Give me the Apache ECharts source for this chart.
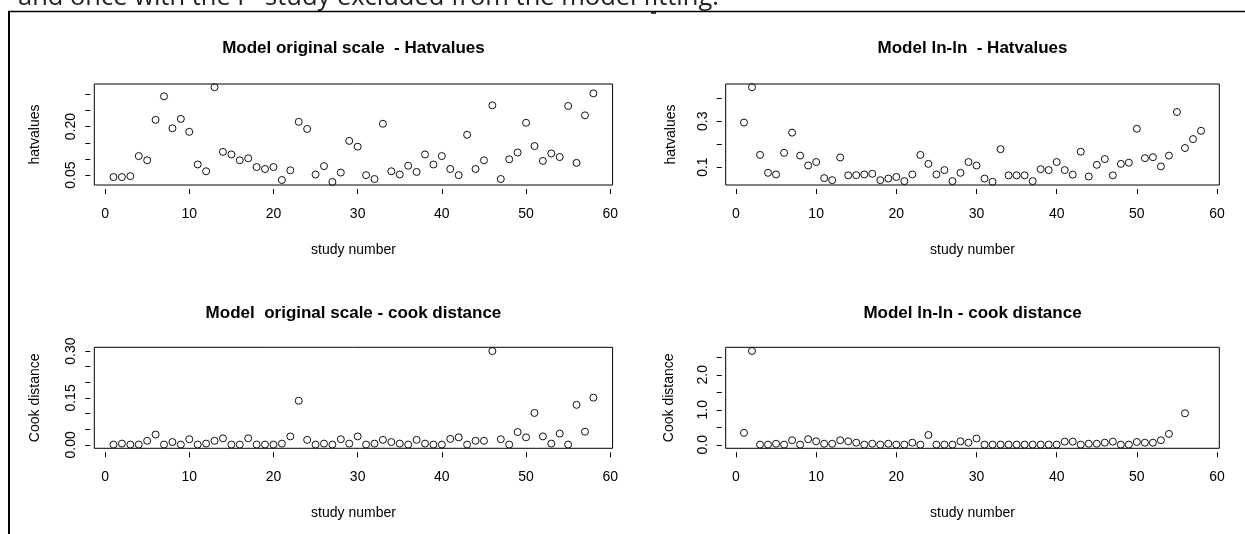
<!DOCTYPE html>
<html>
<head>
<meta charset="utf-8">
<title>Hatvalues and Cook distance</title>
<script src="https://cdn.jsdelivr.net/npm/echarts@6/dist/echarts.min.js"></script>
<style>
  html, body { margin: 0; padding: 0; background: #fff; }
  #chart { width: 1245px; height: 534px; }
</style>
</head>
<body>
<div id="chart"></div>
<script>
// Study index 1..58
const studies = Array.from({ length: 58 }, (_, k) => k + 1);

// Leverage (hat values), model on original scale
const hatOriginal = [
  0.044, 0.044, 0.047, 0.109, 0.096, 0.221, 0.294, 0.195, 0.224, 0.184,
  0.083, 0.062, 0.322, 0.122, 0.114, 0.096, 0.102, 0.075, 0.069, 0.075,
  0.035, 0.065, 0.215, 0.193, 0.052, 0.078, 0.029, 0.058, 0.156, 0.138,
  0.050, 0.038, 0.209, 0.062, 0.052, 0.079, 0.060, 0.114, 0.083, 0.109,
  0.069, 0.050, 0.175, 0.069, 0.096, 0.266, 0.038, 0.099, 0.120, 0.212,
  0.140, 0.094, 0.117, 0.106, 0.264, 0.088, 0.235, 0.303
];

// Leverage (hat values), ln-ln model
const hatLnLn = [
  0.294, 0.448, 0.153, 0.075, 0.068, 0.162, 0.250, 0.150, 0.107, 0.122,
  0.052, 0.043, 0.142, 0.064, 0.065, 0.068, 0.071, 0.043, 0.050, 0.057,
  0.039, 0.068, 0.153, 0.114, 0.068, 0.087, 0.039, 0.075, 0.122, 0.107,
  0.050, 0.036, 0.178, 0.064, 0.064, 0.064, 0.039, 0.091, 0.087, 0.122,
  0.087, 0.067, 0.167, 0.059, 0.110, 0.135, 0.064, 0.114, 0.119, 0.267,
  0.139, 0.143, 0.103, 0.150, 0.340, 0.183, 0.222, 0.258
];

// Cook distance, model on original scale
const cookOriginal = [
  0.001, 0.004, 0.001, 0.001, 0.013, 0.033, 0.001, 0.009, 0.001, 0.018,
  0.001, 0.004, 0.013, 0.021, 0.001, 0.001, 0.021, 0.001, 0.001, 0.001,
  0.004, 0.027, 0.141, 0.016, 0.001, 0.004, 0.001, 0.018, 0.004, 0.027,
  0.001, 0.004, 0.016, 0.009, 0.004, 0.001, 0.016, 0.004, 0.001, 0.001,
  0.019, 0.024, 0.001, 0.013, 0.013, 0.300, 0.018, 0.001, 0.041, 0.024,
  0.102, 0.027, 0.004, 0.036, 0.001, 0.128, 0.042, 0.151
];

// Cook distance, ln-ln model (not available for studies 55, 57, 58)
const cookLnLn = [
  0.34, 2.68, 0.005, 0.005, 0.03, 0.005, 0.13, 0.005, 0.16, 0.10,
  0.03, 0.03, 0.13, 0.10, 0.06, 0.005, 0.03, 0.005, 0.03, 0.005,
  0.005, 0.06, 0.005, 0.28, 0.005, 0.005, 0.005, 0.10, 0.06, 0.18,
  0.005, 0.005, 0.005, 0.005, 0.005, 0.005, 0.005, 0.005, 0.005, 0.005,
  0.09, 0.09, 0.005, 0.03, 0.03, 0.06, 0.09, 0.005, 0.005, 0.08,
  0.06, 0.06, 0.13, 0.31, null, 0.90, null, null
];

// Tick positions
const xTicks = [0, 10, 20, 30, 40, 50, 60];
const hatOrigTicks = [0.05, 0.10, 0.15, 0.20, 0.25, 0.30];
const hatOrigLabels = [0.05, 0.20];
const hatLnTicks = [0.1, 0.2, 0.3, 0.4];
const hatLnLabels = [0.1, 0.3];
const cookOrigTicks = [0, 0.05, 0.10, 0.15, 0.20, 0.25, 0.30];
const cookOrigLabels = [0, 0.15, 0.30];
const cookLnTicks = [0, 0.5, 1.0, 1.5, 2.0, 2.5];
const cookLnLabels = [0, 1.0, 2.0];

const titles = [
  'Model original scale  - Hatvalues',
  'Model ln-ln  - Hatvalues',
  'Model  original scale - cook distance',
  'Model ln-ln - cook distance'
];

const FONT = '"Liberation Sans", Arial, sans-serif';

const panels = [
  { left: 94.3, top: 84, width: 518.3, height: 101, values: hatOriginal,
    ymin: 0.0195, ymax: 0.332, ticks: hatOrigTicks, labels: hatOrigLabels, dec: 2,
    yname: 'hatvalues', nameGap: 48, titleGap: 44 },
  { left: 725.7, top: 84, width: 493.6, height: 101, values: hatLnLn,
    ymin: 0.022, ymax: 0.462, ticks: hatLnTicks, labels: hatLnLabels, dec: 1,
    yname: 'hatvalues', nameGap: 44, titleGap: 44 },
  { left: 94.3, top: 347.3, width: 518.3, height: 101, values: cookOriginal,
    ymin: -0.011, ymax: 0.312, ticks: cookOrigTicks, labels: cookOrigLabels, dec: 2,
    yname: 'Cook distance', nameGap: 48, titleGap: 42 },
  { left: 725.7, top: 347.3, width: 493.6, height: 101, values: cookLnLn,
    ymin: -0.1, ymax: 2.785, ticks: cookLnTicks, labels: cookLnLabels, dec: 1,
    yname: 'Cook distance', nameGap: 46, titleGap: 42 }
];

const grid = [], xAxis = [], yAxis = [], series = [], title = [];

panels.forEach((p, i) => {
  grid.push({
    left: p.left, top: p.top, width: p.width, height: p.height,
    show: true, borderColor: '#000', borderWidth: 1, backgroundColor: 'transparent',
    containLabel: false, outerBoundsMode: 'none'
  });
  title.push({
    text: titles[i],
    left: p.left + p.width / 2,
    top: p.top - p.titleGap,
    textAlign: 'center',
    padding: 0,
    textStyle: { fontFamily: FONT, fontSize: 17, fontWeight: 'bold', color: '#000' }
  });
  xAxis.push({
    type: 'value', gridIndex: i, min: -1.28, max: 60.28,
    position: 'bottom',
    offset: 4,
    axisLine: { show: false, onZero: false },
    axisTick: { show: true, length: 5, customValues: xTicks, lineStyle: { color: '#000', width: 1 } },
    axisLabel: { show: true, customValues: xTicks, margin: 18, fontFamily: FONT, fontSize: 14, color: '#000' },
    splitLine: { show: false },
    name: 'study number', nameLocation: 'middle', nameGap: 54,
    nameTextStyle: { fontFamily: FONT, fontSize: 14, color: '#000' }
  });
  yAxis.push({
    type: 'value', gridIndex: i, min: p.ymin, max: p.ymax,
    position: 'left',
    offset: 4,
    axisLine: { show: false, onZero: false },
    axisTick: { show: true, length: 5, customValues: p.ticks, lineStyle: { color: '#000', width: 1 } },
    axisLabel: {
      show: true, customValues: p.labels, rotate: 90, margin: 12,
      fontFamily: FONT, fontSize: 14, color: '#000',
      formatter: v => Number(v).toFixed(p.dec)
    },
    splitLine: { show: false },
    name: p.yname, nameLocation: 'middle', nameGap: p.nameGap, nameRotate: 90,
    nameTextStyle: { fontFamily: FONT, fontSize: 14, color: '#000' }
  });
  series.push({
    type: 'scatter', xAxisIndex: i, yAxisIndex: i,
    symbol: 'circle', symbolSize: 7,
    itemStyle: { color: 'rgba(0,0,0,0)', borderColor: '#111', borderWidth: 1, opacity: 1 },
    emphasis: { disabled: true },
    silent: true,
    data: studies.map((s, k) => p.values[k] == null ? null : [s, p.values[k]]).filter(d => d)
  });
});

const chart = echarts.init(document.getElementById('chart'), null, { renderer: 'canvas' });
chart.setOption({
  animation: false,
  backgroundColor: '#fff',
  title, grid, xAxis, yAxis, series,
  graphic: [
    {
      type: 'text', left: 18, top: -15, silent: true,
      style: {
        text: 'and once with the i{sup|th} study excluded from the model fitting.',
        font: '25.5px "Open Sans", sans-serif', fill: '#222',
        rich: { sup: { fontSize: 15, fontFamily: '"Open Sans", sans-serif', fill: '#222', verticalAlign: 'top' } }
      }
    },
    { type: 'line', silent: true, shape: { x1: 8, y1: 11.5, x2: 1245, y2: 11.5 }, style: { stroke: '#000', lineWidth: 1.5 } },
    { type: 'line', silent: true, shape: { x1: 9, y1: 11, x2: 9, y2: 534 }, style: { stroke: '#000', lineWidth: 2 } },
    { type: 'line', silent: true, shape: { x1: 651, y1: 13, x2: 656, y2: 13 }, style: { stroke: '#000', lineWidth: 1.5 } }
  ]
});
</script>
</body>
</html>
